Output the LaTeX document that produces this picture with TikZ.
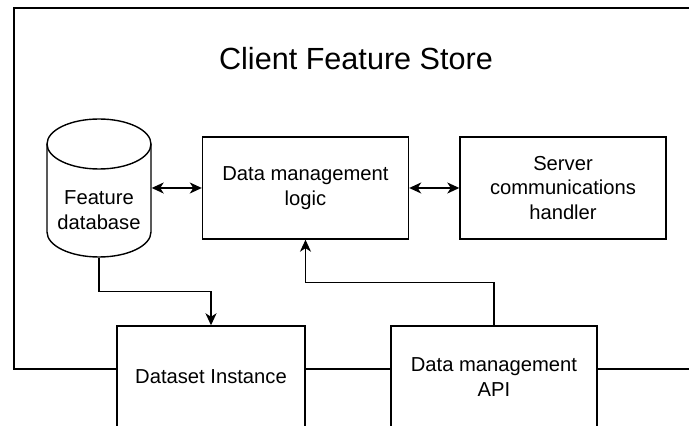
\documentclass[tikz,border=0pt]{standalone}
\usepackage{fontspec}
\setmainfont{Liberation Sans}
\usetikzlibrary{arrows.meta,calc}
\begin{document}
\begin{tikzpicture}[x=1pt,y=1pt,
  line width=1.4pt,
  box/.style={draw, rectangle, minimum width=206pt, minimum height=102pt, inner sep=0pt,
    align=center, font=\fontsize{20.2}{24.8}\selectfont},
  lbl/.style={align=center, font=\fontsize{20.2}{24.8}\selectfont, inner sep=0pt},
  arr/.style={-{Stealth[length=12pt,width=11pt,inset=3.5pt]}},
  darr/.style={{Stealth[length=12pt,width=11pt,inset=3.5pt]}-{Stealth[length=12pt,width=11pt,inset=3.5pt]}}
]
\clip (0,0) rectangle (689,426);
\fill[white] (0,0) rectangle (689,426);

% title
\node[anchor=base, font=\fontsize{30.6}{36}\selectfont, inner sep=0pt] (title) at (356,356.7) {Client Feature Store};

% nodes
\node[box] (logic) at (305.5,238) {Data management\\logic};
\node[box] (server) at (563,238) {Server\\communications\\handler};
\node[box, minimum width=188pt] (ds) at (211,49) {Dataset Instance};
\node[box] (api) at (494,49) {Data management\\API};

% cylinder
\node[minimum width=104pt, minimum height=138pt, inner sep=0pt] (db) at (99,238) {};
\draw (99,282) ellipse [x radius=52, y radius=25];
\draw (47,282) -- (47,194) arc[start angle=180, end angle=360, x radius=52, y radius=25] -- (151,282);
\node[lbl] (dbtext) at (99,215.5) {Feature\\database};

% frame
\coordinate (ftl) at (14,418);
\coordinate (ftr) at (695,418);
\coordinate (fbl) at (14,57);
\coordinate (fbr) at (695,57);
\draw (ftr) -- (ftl) -- (fbl) -- (ds.west |- fbl);
\draw (ds.east |- fbl) -- (api.west |- fbl);
\draw (api.east |- fbl) -- (fbr);

% connectors
\draw[darr] (db.east) -- (logic.west);
\draw[darr] (logic.east) -- (server.west);
\draw[arr] (db.south) -- ++(0,-34) -| (ds.north);
\draw[arr] (api.north) -- ++(0,43) -| (logic.south);
\end{tikzpicture}
\end{document}
